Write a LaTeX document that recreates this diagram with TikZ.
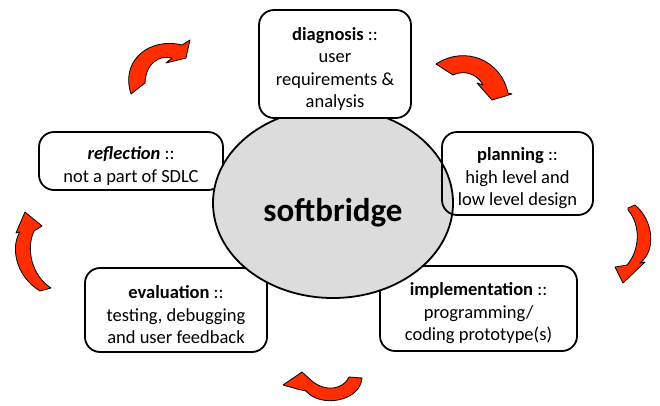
\documentclass[tikz,border=0pt]{standalone}
\usepackage{fontspec}
\setmainfont{Carlito}
\usetikzlibrary{shapes.geometric}
\definecolor{arrowred}{RGB}{255,45,0}
\definecolor{ellgray}{RGB}{220,220,220}
\newcommand{\topdrop}{\rule{0pt}{22.5pt}}
\begin{document}
\begin{tikzpicture}[x=1pt,y=-1pt,
  stagebox/.style={draw=black, line width=1.8pt, rounded corners=15pt, fill=white,
    align=center, font=\fontsize{18.5}{22.5}\selectfont, inner sep=0pt, anchor=center},
  core/.style={ellipse, draw=black, line width=1.8pt, fill=ellgray,
    minimum width=240pt, minimum height=190pt, inner sep=0pt},
  cyclearrow/.style={fill=arrowred, draw=black, line width=0.8pt, line join=round}]
\useasboundingbox (0,0) rectangle (660,405);

\node[stagebox, minimum width=184pt, minimum height=58pt] (reflection) at (131,161)
  {\topdrop\textbf{\textit{reflection}} ::\\not a part of SDLC};
\node[stagebox, minimum width=182pt, minimum height=84pt] (evaluation) at (176,310)
  {\topdrop\textbf{evaluation} ::\\testing, debugging\\and user feedback};
\node[stagebox, minimum width=197pt, minimum height=85pt] (implementation) at (478.5,308.5)
  {\topdrop\textbf{implementation} ::\\programming/\\coding prototype(s)};

\node[core] (core) at (333,203) {};

\node[stagebox, minimum width=152pt, minimum height=108pt] (diagnosis) at (335,64)
  {\topdrop\textbf{diagnosis} ::\\user\\requirements \&\\analysis};
\node[stagebox, fill=none, minimum width=151pt, minimum height=83pt] (planning) at (517.5,173.5)
  {\topdrop\textbf{planning} ::\\high level and\\low level design};

\node[font=\fontsize{33}{38}\selectfont\bfseries] (title) at (333,213) {softbridge};

% top-left arrow
\draw[cyclearrow] (131,94) .. controls (120,60) and (150,37) .. (182,45)
  -- (190,40) -- (186,58) -- (166,63) -- (172,58)
  .. controls (160,55) and (146,62) .. (145,83) -- cycle;
% top-right arrow
\draw[cyclearrow] (436,64) .. controls (465,45) and (501,60) .. (508,93)
  -- (512,94) -- (492,100) -- (477,83) -- (483,85)
  .. controls (477,73) and (463,70) .. (453,75) -- cycle;
% right arrow
\draw[cyclearrow] (628,208) -- (635,205) .. controls (653,220) and (657,250) .. (640,263)
  -- (645,262) -- (623,283) -- (615,267) -- (627,265)
  .. controls (640,250) and (641,225) .. (628,210) -- cycle;
% bottom arrow
\draw[cyclearrow] (362,378) .. controls (360,402) and (320,408) .. (306,391)
  -- (297,389) -- (283,385) -- (302,372) -- (312,381)
  .. controls (325,392) and (343,390) .. (349,377) -- cycle;
% left arrow
\draw[cyclearrow] (40,291) .. controls (14,275) and (11,245) .. (20,232)
  -- (16,233) -- (25,212) -- (42,226) -- (34,231)
  .. controls (26,248) and (31,275) .. (51,288) -- cycle;
\end{tikzpicture}
\end{document}
